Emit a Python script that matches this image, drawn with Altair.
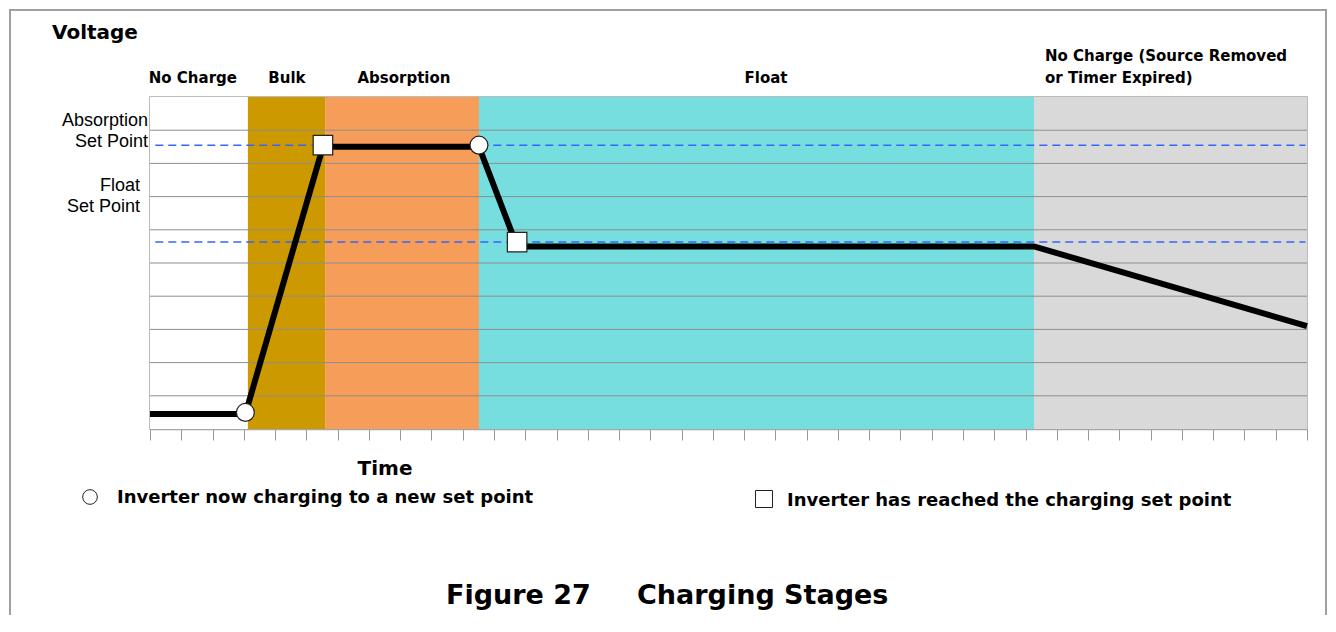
import altair as alt
import pandas as pd

# ---------------- data ----------------
stage_names = ["No Charge", "Bulk", "Absorption", "Float", "No Charge (end)"]
stage_start = [0, 3.13, 5.6, 10.52, 28.27]
stage_end = [3.13, 5.6, 10.52, 28.27, 37]
stage_colors = ["#FFFFFF", "#CC9900", "#F59D59", "#76DEDE", "#D9D9D9"]

stage_labels = ["No Charge", "Bulk", "Absorption", "Float"]
stage_label_x = [1.37, 4.38, 8.12, 19.7]
end_label_lines = ["No Charge (Source Removed", "or Timer Expired)"]
end_label_x = 28.62

time_pts = [0, 3.05, 5.53, 10.52, 11.74, 28.27, 37]
volt_pts = [0.45, 0.45, 8.5, 8.5, 5.5, 5.5, 3.1]

circle_t = [3.05, 10.52]
circle_v = [0.5, 8.55]
square_t = [5.53, 11.74]
square_v = [8.55, 5.63]

setpoint_names = ["Absorption Set Point", "Float Set Point"]
setpoint_v = [8.55, 5.63]
setpoint_from = 0.17
setpoint_to = 36.95

grid_v = [1, 2, 3, 4, 5, 6, 7, 8, 9]
tick_t = list(range(38))

W, H = 1157, 332
HEAVY = "DejaVu Sans"
PLAIN = "Liberation Sans"

xs = alt.Scale(domain=[0, 37], nice=False, zero=False)
ys = alt.Scale(domain=[0, 10], nice=False, zero=False)
xaxis = alt.Axis(values=tick_t, labels=False, title=None, grid=False, ticks=True,
                 tickSize=11, tickColor="#999999", tickWidth=1,
                 domainColor="#A6A6A6", domainWidth=1.5)

stages = pd.DataFrame({"stage": stage_names, "start": stage_start, "end": stage_end})
rects = alt.Chart(stages).mark_rect().encode(
    x=alt.X("start:Q", scale=xs, axis=xaxis),
    x2="end:Q",
    y=alt.datum(0, scale=ys, axis=None),
    y2=alt.datum(10),
    color=alt.Color("stage:N", scale=alt.Scale(domain=stage_names, range=stage_colors), legend=None),
)

grid = alt.Chart(pd.DataFrame({"v": grid_v})).mark_rule(color="#8E8E8E", strokeWidth=1).encode(
    y=alt.Y("v:Q", scale=ys, axis=None)
)

sp = pd.DataFrame({"name": setpoint_names, "v": setpoint_v,
                   "a": [setpoint_from] * 2, "b": [setpoint_to] * 2})
dashed = alt.Chart(sp).mark_rule(color="#3366FF", strokeWidth=1.5, strokeDash=[8, 5]).encode(
    x=alt.X("a:Q", scale=xs, axis=xaxis), x2="b:Q",
    y=alt.Y("v:Q", scale=ys, axis=None),
)

line_df = pd.DataFrame({"t": time_pts, "v": volt_pts, "o": list(range(len(time_pts)))})
line = alt.Chart(line_df).mark_line(color="black", strokeWidth=6).encode(
    x=alt.X("t:Q", scale=xs, axis=xaxis),
    y=alt.Y("v:Q", scale=ys, axis=None),
    order="o:Q",
)

circles = alt.Chart(pd.DataFrame({"t": circle_t, "v": circle_v})).mark_point(
    shape="circle", filled=True, fill="white", stroke="#222222", strokeWidth=1.2, size=320, opacity=1
).encode(x=alt.X("t:Q", scale=xs, axis=xaxis), y=alt.Y("v:Q", scale=ys, axis=None))

squares = alt.Chart(pd.DataFrame({"t": square_t, "v": square_v})).mark_point(
    shape="square", filled=True, fill="white", stroke="#222222", strokeWidth=1.2, size=380, opacity=1
).encode(x=alt.X("t:Q", scale=xs, axis=xaxis), y=alt.Y("v:Q", scale=ys, axis=None))

slabels = alt.Chart(pd.DataFrame({"s": stage_labels, "x": stage_label_x})).mark_text(
    font=HEAVY, fontWeight="bold", fontSize=15, align="center", baseline="middle", color="black"
).encode(x=alt.X("x:Q", scale=xs, axis=xaxis), y=alt.value(-19), text="s:N")

endlabels = alt.Chart(pd.DataFrame({"s": end_label_lines, "x": [end_label_x] * 2, "py": [-41, -19]})).mark_text(
    font=HEAVY, fontWeight="bold", fontSize=15, align="left", baseline="middle", color="black"
).encode(x=alt.X("x:Q", scale=xs, axis=xaxis), y=alt.Y("py:Q", scale=None, axis=None), text="s:N")


def txt(text, x, y, size, font=HEAVY, weight="bold", align="left"):
    return alt.Chart(alt.Data(values=[{"t": 1}])).mark_text(
        text=text, font=font, fontWeight=weight, fontSize=size, align=align,
        baseline="middle", color="black"
    ).encode(x=alt.value(x), y=alt.value(y))


texts = [
    txt("Voltage", -98, -64.5, 20),
    txt("Absorption", -2, 24, 18, font=PLAIN, weight="normal", align="right"),
    txt("Set Point", -2, 45, 18, font=PLAIN, weight="normal", align="right"),
    txt("Float", -10, 89, 18, font=PLAIN, weight="normal", align="right"),
    txt("Set Point", -10, 110, 18, font=PLAIN, weight="normal", align="right"),
    txt("Time", 235, 372, 20, align="center"),
    txt("Inverter now charging to a new set point", -33, 401, 18),
    txt("Inverter has reached the charging set point", 637, 404, 18),
    txt("Figure 27", 296, 499, 27),
    txt("Charging Stages", 487, 499, 27),
]

leg_circle = alt.Chart(alt.Data(values=[{"t": 1}])).mark_point(
    shape="circle", filled=True, fill="white", stroke="#222222", strokeWidth=1, size=215, opacity=1
).encode(x=alt.value(-60), y=alt.value(400))
leg_square = alt.Chart(alt.Data(values=[{"t": 1}])).mark_point(
    shape="square", filled=True, fill="white", stroke="#222222", strokeWidth=1, size=289, opacity=1
).encode(x=alt.value(614), y=alt.value(402))

frame = alt.Chart(alt.Data(values=[{"t": 1}])).mark_rect(
    fill="transparent", stroke="#A0A0A0", strokeWidth=2
).encode(x=alt.value(-140), x2=alt.value(1176), y=alt.value(-87), y2=alt.value(700))

chart = alt.layer(
    frame, rects, grid, dashed, line, circles, squares, slabels, endlabels,
    leg_circle, leg_square, *texts
).properties(
    width=W, height=H,
    autosize=alt.AutoSizeParams(type="none"),
    padding={"left": 142, "top": 89, "right": 20, "bottom": 186},
).configure_view(stroke="#A6A6A6", strokeWidth=1.5)

chart.save("out.html", embed_options={"renderer": "svg", "actions": False})
